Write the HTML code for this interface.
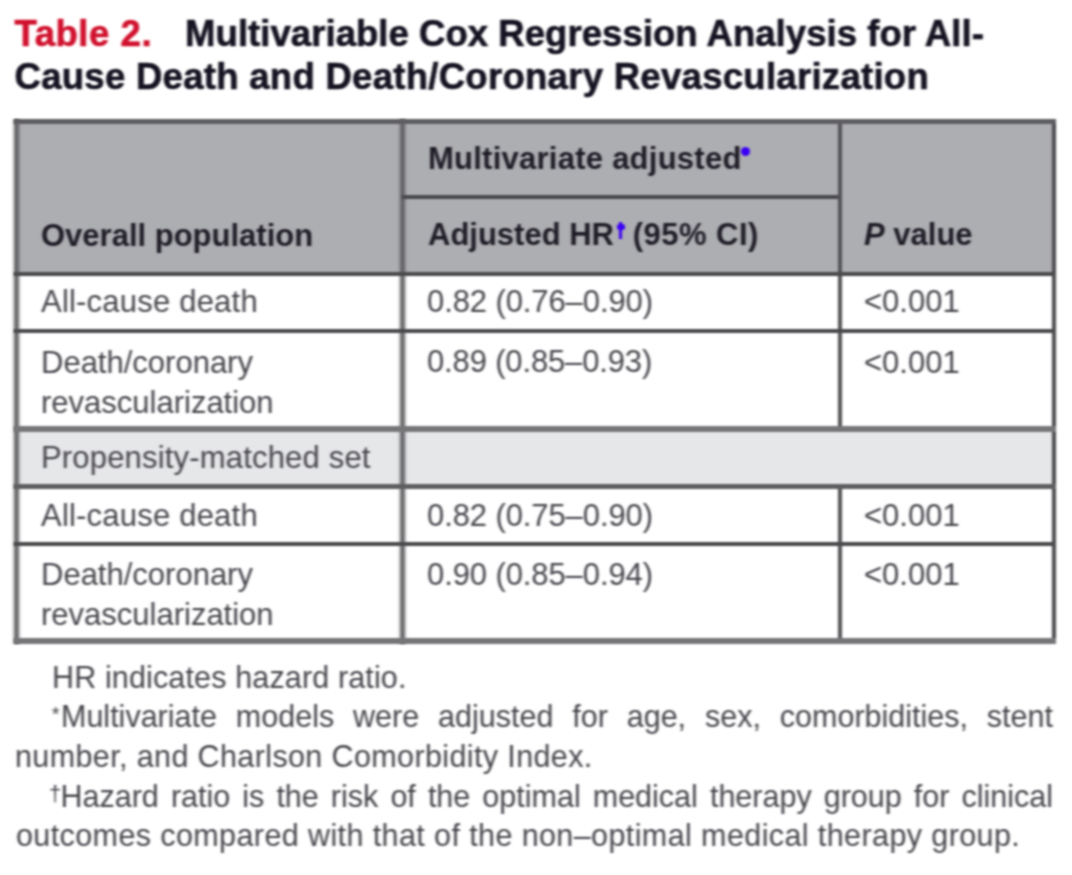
<!DOCTYPE html>
<html><head><meta charset="utf-8"><style>
html,body{margin:0;padding:0;background:#fff;width:1072px;height:875px;overflow:hidden;position:relative}
.t{position:absolute;white-space:nowrap;font-family:"Liberation Sans",sans-serif}
.r{position:absolute}
.L{position:absolute;left:0;top:0;width:1072px;height:875px}
#g,#h,#w{filter:url(#bf)}
#v{filter:url(#vf)}
.j{display:block;text-align:justify;text-align-last:justify;white-space:normal}
sup{font-size:55%;vertical-align:0;position:relative;top:-0.75em}
</style></head><body><svg width="0" height="0" style="position:absolute"><filter id="bf" x="0" y="0" width="100%" height="100%" color-interpolation-filters="sRGB"><feConvolveMatrix order="7 5" kernelMatrix="1 6 15 20 15 6 1 4 24 60 80 60 24 4 6 36 90 120 90 36 6 4 24 60 80 60 24 4 1 6 15 20 15 6 1" divisor="1024" edgeMode="none"/></filter><filter id="vf" x="0" y="0" width="100%" height="100%" color-interpolation-filters="sRGB"><feConvolveMatrix order="13 5" kernelMatrix="1 12 66 220 495 792 924 792 495 220 66 12 1 4 48 264 880 1980 3168 3696 3168 1980 880 264 48 4 6 72 396 1320 2970 4752 5544 4752 2970 1320 396 72 6 4 48 264 880 1980 3168 3696 3168 1980 880 264 48 4 1 12 66 220 495 792 924 792 495 220 66 12 1" divisor="65536" edgeMode="none"/></filter></svg><div id="g" class="L">
<div class="r" style="left:16px;top:121px;width:1038px;height:153px;background:#adaeb2"></div>
<div class="r" style="left:16px;top:429px;width:1038px;height:58px;background:#e6e7e9"></div>
</div><div id="v" class="L">
<div class="r" style="left:14px;top:119px;width:5px;height:525px;background:#5e5d60"></div>
<div class="r" style="left:400px;top:119px;width:5px;height:525px;background:#5e5d60"></div>
</div><div id="h" class="L">
<div class="r" style="left:838px;top:119px;width:4px;height:308px;background:#525154"></div>
<div class="r" style="left:838px;top:486px;width:4px;height:158px;background:#525154"></div>
<div class="r" style="left:1052px;top:119px;width:4px;height:525px;background:#4a494c"></div>
<div class="r" style="left:14px;top:119px;width:1042px;height:5px;background:#5e5d60"></div>
<div class="r" style="left:14px;top:272px;width:1042px;height:4px;background:#4a494c"></div>
<div class="r" style="left:14px;top:329px;width:1042px;height:4px;background:#4a494c"></div>
<div class="r" style="left:14px;top:426px;width:1042px;height:6px;background:#767578"></div>
<div class="r" style="left:14px;top:484px;width:1042px;height:5px;background:#5e5d60"></div>
<div class="r" style="left:14px;top:542px;width:1042px;height:4px;background:#4a494c"></div>
<div class="r" style="left:14px;top:638px;width:1042px;height:6px;background:#767578"></div>
<div class="r" style="left:402px;top:195px;width:436px;height:4px;background:#4a494c"></div>
</div><div id="w" class="L">
<div class="t" style="left:14.5px;top:11.55px;font-size:36.5px;line-height:44.000px;font-weight:700;color:#141220;-webkit-text-stroke-width:0.6px"><span style="color:#d0102c;letter-spacing:0.55px">Table 2.</span><span style="display:inline-block;width:33px"></span><span style="letter-spacing:0.05px">Multivariable Cox Regression Analysis for All-</span></div>
<div class="t" style="left:14.5px;top:54.65px;font-size:36.5px;line-height:44.000px;font-weight:700;color:#141220;letter-spacing:0.29px;-webkit-text-stroke-width:0.6px">Cause Death and Death/Coronary Revascularization</div>
<div class="r" style="left:741.3px;top:147.3px;width:9px;height:9px;border-radius:50%;background:#3a00f5"></div>
<div class="r" style="left:619.1px;top:222px;width:3.3999999999999773px;height:17px;background:#3a00f5"></div>
<div class="r" style="left:616.6px;top:224.2px;width:8.4px;height:5.6px;border-radius:2.5px;background:#3a00f5"></div>
<div class="t" style="left:428px;top:140.26px;font-size:31px;line-height:37.000px;font-weight:700;color:#1e1b25;"><span style="letter-spacing:0.25px">Multivariate adjuste</span>d</div>
<div class="t" style="left:41px;top:216.56px;font-size:31px;line-height:37.000px;font-weight:700;color:#1e1b25;">Overall population</div>
<div class="t" style="left:428px;top:216.36px;font-size:31px;line-height:37.000px;font-weight:700;color:#1e1b25;">Adjusted HR<span style="display:inline-block;width:10px"></span> <span style="letter-spacing:0.5px">(95% CI)</span></div>
<div class="t" style="left:864px;top:216.46px;font-size:31px;line-height:37.000px;font-weight:700;color:#1e1b25;"><i>P</i> value</div>
<div class="t" style="left:41px;top:284.27px;font-size:31px;line-height:35.577px;font-weight:400;color:#46444a;transform:scaleY(1.04);transform-origin:0 17.43px;letter-spacing:0.21px">All-cause death</div>
<div class="t" style="left:427px;top:283.97px;font-size:31px;line-height:35.577px;font-weight:400;color:#46444a;transform:scaleY(1.04);transform-origin:0 17.43px;letter-spacing:-0.1px">0.82 (0.76–0.90)</div>
<div class="t" style="left:864px;top:284.47px;font-size:31px;line-height:35.577px;font-weight:400;color:#46444a;transform:scaleY(1.04);transform-origin:0 17.43px;">&lt;0.001</div>
<div class="t" style="left:41px;top:343.67px;font-size:31px;line-height:37.981px;font-weight:400;color:#46444a;transform:scaleY(1.04);transform-origin:0 18.63px;">Death/coronary<br>revascularization</div>
<div class="t" style="left:427px;top:343.97px;font-size:31px;line-height:35.577px;font-weight:400;color:#46444a;transform:scaleY(1.04);transform-origin:0 17.43px;letter-spacing:-0.15px">0.89 (0.85–0.93)</div>
<div class="t" style="left:864px;top:344.67px;font-size:31px;line-height:35.577px;font-weight:400;color:#46444a;transform:scaleY(1.04);transform-origin:0 17.43px;">&lt;0.001</div>
<div class="t" style="left:41px;top:440.47px;font-size:31px;line-height:35.577px;font-weight:400;color:#46444a;transform:scaleY(1.04);transform-origin:0 17.43px;letter-spacing:0.18px">Propensity-matched set</div>
<div class="t" style="left:41px;top:497.77px;font-size:31px;line-height:35.577px;font-weight:400;color:#46444a;transform:scaleY(1.04);transform-origin:0 17.43px;letter-spacing:0.21px">All-cause death</div>
<div class="t" style="left:427px;top:497.77px;font-size:31px;line-height:35.577px;font-weight:400;color:#46444a;transform:scaleY(1.04);transform-origin:0 17.43px;letter-spacing:-0.1px">0.82 (0.75–0.90)</div>
<div class="t" style="left:864px;top:497.77px;font-size:31px;line-height:35.577px;font-weight:400;color:#46444a;transform:scaleY(1.04);transform-origin:0 17.43px;">&lt;0.001</div>
<div class="t" style="left:41px;top:556.36px;font-size:31px;line-height:37.788px;font-weight:400;color:#46444a;transform:scaleY(1.04);transform-origin:0 18.54px;">Death/coronary<br>revascularization</div>
<div class="t" style="left:427px;top:557.27px;font-size:31px;line-height:35.577px;font-weight:400;color:#46444a;transform:scaleY(1.04);transform-origin:0 17.43px;letter-spacing:-0.1px">0.90 (0.85–0.94)</div>
<div class="t" style="left:864px;top:557.27px;font-size:31px;line-height:35.577px;font-weight:400;color:#46444a;transform:scaleY(1.04);transform-origin:0 17.43px;">&lt;0.001</div>
<div class="t" style="left:52px;top:659.64px;font-size:30.5px;line-height:35.577px;font-weight:400;color:#46444a;transform:scaleY(1.04);transform-origin:0 17.44px;letter-spacing:0.14px">HR indicates hazard ratio.</div>
<div class="t" style="left:53px;top:699.44px;font-size:30.5px;line-height:35.577px;font-weight:400;color:#46444a;transform:scaleY(1.04);transform-origin:0 17.44px;width:1000px"><span class="j"><span style="display:inline-block;width:8px;font-size:20px;line-height:20px;vertical-align:top;position:relative;top:4.5px;left:-1.3px">*</span>Multivariate models were adjusted for age, sex, comorbidities, stent</span></div>
<div class="t" style="left:15px;top:738.94px;font-size:30.5px;line-height:35.577px;font-weight:400;color:#46444a;transform:scaleY(1.04);transform-origin:0 17.44px;letter-spacing:0.38px">number, and Charlson Comorbidity Index.</div>
<div class="t" style="left:51.5px;top:779.14px;font-size:30.5px;line-height:35.577px;font-weight:400;color:#46444a;transform:scaleY(1.04);transform-origin:0 17.44px;width:1001.5px"><span class="j"><span style="display:inline-block;width:9px;font-size:22px;line-height:22px;vertical-align:top;position:relative;top:3.5px;left:-2.5px">†</span>Hazard ratio is the risk of the optimal medical therapy group for clinical</span></div>
<div class="t" style="left:16px;top:818.44px;font-size:30.5px;line-height:35.577px;font-weight:400;color:#46444a;transform:scaleY(1.04);transform-origin:0 17.44px;letter-spacing:0.4px">outcomes compared with that of the non–optimal medical therapy group.</div>
</div></body></html>
